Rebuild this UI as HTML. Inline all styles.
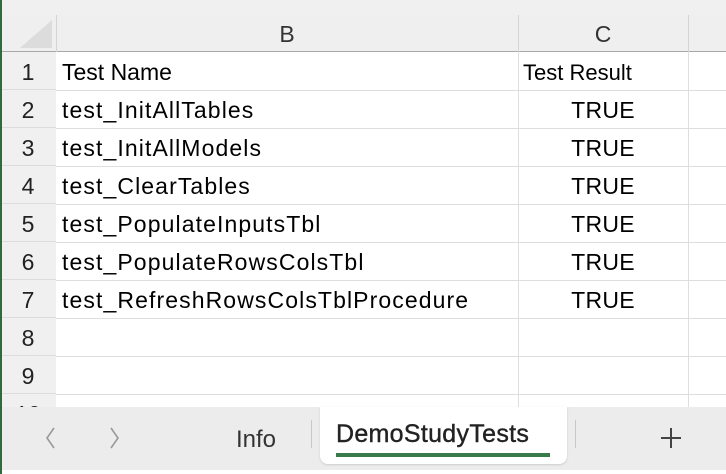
<!DOCTYPE html>
<html><head><meta charset="utf-8"><style>
*{margin:0;padding:0;box-sizing:border-box}
body{width:726px;height:474px;overflow:hidden;background:#fff;font-family:"Liberation Sans",sans-serif;position:relative}
.abs{position:absolute}
.rn{position:absolute;left:0;width:56px;text-align:center;font-size:23px;color:#222;background:#f0f0f0;height:38px;line-height:40px;border-bottom:1px solid #dcdcdc}
.hl{position:absolute;left:56px;width:670px;height:1px;background:#dedede}
.cell{position:absolute;font-size:23px;line-height:41px;color:#000;height:38px;letter-spacing:1.1px;white-space:nowrap}
</style></head><body>
<div class="abs" style="left:0;top:0;width:726px;height:15px;background:#f0f0f0"></div>
<div class="abs" style="left:0;top:15px;width:726px;height:37px;background:#efefef;border-bottom:1px solid #a8a8a8"></div>
<svg class="abs" style="left:16px;top:18px" width="38" height="32"><polygon points="36,2 36,30 4,30" fill="#dcdcdc"/></svg>
<div class="abs" style="left:56px;top:15px;width:1px;height:37px;background:#d4d4d4"></div>
<div class="abs" style="left:518px;top:15px;width:1px;height:37px;background:#d4d4d4"></div>
<div class="abs" style="left:688px;top:15px;width:1px;height:37px;background:#d4d4d4"></div>
<div class="abs" style="left:56px;top:15px;width:462px;height:37px;line-height:39px;text-align:center;font-size:23px;color:#333">B</div>
<div class="abs" style="left:518px;top:15px;width:170px;height:37px;line-height:39px;text-align:center;font-size:23px;color:#333">C</div>
<div class="abs" style="left:0;top:52px;width:56px;height:355px;background:#f0f0f0;border-right:1px solid #c8c8c8"></div>
<div class="abs" style="left:518px;top:52px;width:1px;height:355px;background:#dedede"></div>
<div class="abs" style="left:688px;top:52px;width:1px;height:355px;background:#dedede"></div>
<div id="rows"></div>
<div class="abs" style="left:0;top:407px;width:726px;height:63px;background:#ececec"></div>
<div class="abs" style="left:0;top:0;width:2px;height:474px;background:#2f6b3d"></div>
<svg class="abs" style="left:42px;top:425px" width="16" height="26"><polyline points="12,3 5,13 12,23" fill="none" stroke="#999" stroke-width="1.6"/></svg>
<svg class="abs" style="left:107px;top:425px" width="16" height="26"><polyline points="4,3 11,13 4,23" fill="none" stroke="#999" stroke-width="1.6"/></svg>
<div class="abs" style="left:236px;top:426px;font-size:24px;color:#333">Info</div>
<div class="abs" style="left:311px;top:420px;width:1px;height:28px;background:#c8c8c8"></div>
<div class="abs" style="left:320px;top:407px;width:247px;height:57px;background:#fff;border-radius:0 0 8px 8px;box-shadow:0 1px 2px #ccc">
<div style="position:absolute;left:16px;top:13px;font-size:25px;color:#222;letter-spacing:0.3px;-webkit-text-stroke:0.4px #222;white-space:nowrap">DemoStudyTests</div>
<div style="position:absolute;left:16px;top:46px;width:214px;height:4px;background:#3a7a4a"></div></div>
<div class="abs" style="left:575px;top:420px;width:1px;height:28px;background:#c8c8c8"></div>
<svg class="abs" style="left:659px;top:426px" width="24" height="24"><path d="M12 2V22M2 12H22" stroke="#444" stroke-width="2"/></svg>
<script>
const names=["Test Name","test_InitAllTables","test_InitAllModels","test_ClearTables","test_PopulateInputsTbl","test_PopulateRowsColsTbl","test_RefreshRowsColsTblProcedure","",""];
const results=["Test Result","TRUE","TRUE","TRUE","TRUE","TRUE","TRUE","",""];
const c=document.getElementById('rows');
for(let i=0;i<10;i++){
 const top=52+i*38;
 const rn=document.createElement('div');rn.className='rn';rn.style.top=top+'px';rn.textContent=i+1;
 
 
 c.appendChild(rn);
 const hl=document.createElement('div');hl.className='hl';hl.style.top=(top+38)+'px';c.appendChild(hl);
 if(i<names.length&&names[i]){
  const a=document.createElement('div');a.className='cell';a.style.left='62px';a.style.top=top+'px';a.textContent=names[i];
  if(i==0){a.style.letterSpacing='0px';}
  
  
  c.appendChild(a);
  const b=document.createElement('div');b.className='cell';b.style.left='518px';b.style.width='170px';b.style.top=top+'px';
  if(i==0){b.style.paddingLeft='5px';b.style.letterSpacing='0px';b.style.fontSize='22px';}else{b.style.textAlign='center';b.style.letterSpacing='0.3px';}
  b.textContent=results[i];
  
  
  c.appendChild(b);
 }
}
</script>
</body></html>
